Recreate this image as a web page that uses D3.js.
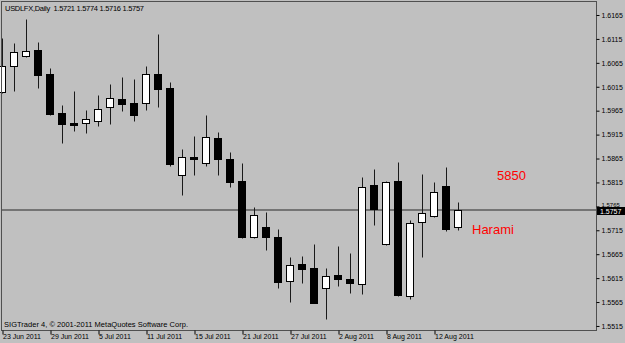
<!DOCTYPE html>
<html><head><meta charset="utf-8">
<script src="https://cdn.jsdelivr.net/npm/d3@7"></script>
<style>
html,body{margin:0;padding:0;background:#c0c0c0;}
svg{display:block;}
text{font-family:"Liberation Sans",Arial,sans-serif;}
</style></head>
<body>
<svg id="chart" width="625" height="343"></svg>
<script>
const dates = ["23 Jun","24 Jun","27 Jun","28 Jun","29 Jun","30 Jun","1 Jul","4 Jul","5 Jul","6 Jul","7 Jul","8 Jul","11 Jul","12 Jul","13 Jul","14 Jul","15 Jul","18 Jul","19 Jul","20 Jul","21 Jul","22 Jul","25 Jul","26 Jul","27 Jul","28 Jul","29 Jul","1 Aug","2 Aug","3 Aug","4 Aug","5 Aug","8 Aug","9 Aug","10 Aug","11 Aug","12 Aug","15 Aug","16 Aug"];
const openP  = [1.6005,1.6058,1.6079,1.6092,1.6041,1.5960,1.5939,1.5939,1.5944,1.5972,1.5990,1.5981,1.5981,1.6041,1.6012,1.5830,1.5868,1.5856,1.5907,1.5863,1.5817,1.5700,1.5721,1.5701,1.5609,1.5645,1.5637,1.5594,1.5622,1.5613,1.5603,1.5810,1.5686,1.5819,1.5578,1.5732,1.5745,1.5808,1.5721];
const highP  = [1.6116,1.6107,1.6157,1.6109,1.6055,1.5977,1.6006,1.5966,1.5998,1.6021,1.6035,1.6031,1.6058,1.6125,1.6025,1.5884,1.5912,1.5955,1.5920,1.5878,1.5855,1.5764,1.5754,1.5717,1.5660,1.5662,1.5687,1.5637,1.5682,1.5668,1.5827,1.5843,1.5818,1.5858,1.5737,1.5833,1.5816,1.5847,1.5774];
const lowP   = [1.6002,1.6006,1.6077,1.6013,1.5956,1.5897,1.5923,1.5918,1.5932,1.5937,1.5965,1.5944,1.5966,1.5972,1.5850,1.5789,1.5830,1.5850,1.5830,1.5806,1.5698,1.5698,1.5674,1.5594,1.5565,1.5604,1.5562,1.5530,1.5599,1.5583,1.5582,1.5725,1.5684,1.5578,1.5571,1.5660,1.5743,1.5714,1.5716];
const closeP = [1.6059,1.6088,1.6090,1.6040,1.5958,1.5937,1.5936,1.5948,1.5968,1.5991,1.5979,1.5956,1.6041,1.6011,1.5854,1.5868,1.5864,1.5909,1.5863,1.5816,1.5702,1.5747,1.5701,1.5607,1.5643,1.5634,1.5564,1.5620,1.5614,1.5604,1.5806,1.5760,1.5815,1.5580,1.5731,1.5751,1.5794,1.5718,1.5757];
const xTickDates  = ["23 Jun","29 Jun","5 Jul","11 Jul","15 Jul","21 Jul","27 Jul","2 Aug","8 Aug","12 Aug"];
const xTickLabels = ["23 Jun 2011","29 Jun 2011","5 Jul 2011","11 Jul 2011","15 Jul 2011","21 Jul 2011","27 Jul 2011","2 Aug 2011","8 Aug 2011","12 Aug 2011"];
const yTicks = [1.6165,1.6115,1.6065,1.6015,1.5965,1.5915,1.5865,1.5815,1.5765,1.5715,1.5665,1.5615,1.5565,1.5515];
const titleText = "USDLFX,Daily  1.5721 1.5774 1.5716 1.5757";
const copyrightText = "SIGTrader 4, © 2001-2011 MetaQuotes Software Corp.";
const lastPrice = 1.5757;
const notes = [{text:"5850"},{text:"Harami"}];

const svg = d3.select("#chart");
const L = 1, R = 596, T = 1, B = 330;
const x = d3.scalePoint().domain(dates).range([3, 459]);
const y = d3.scaleLinear().domain([1.550656, 1.619426]).range([B, T]);
const py = v => Math.round(y(v)) + 0.5;

svg.append("rect").attr("width",625).attr("height",343).attr("fill","#c0c0c0");

// bid line
svg.append("line").attr("x1",L).attr("x2",R).attr("y1",Math.round(y(lastPrice))).attr("y2",Math.round(y(lastPrice)))
  .attr("stroke","#747474").attr("stroke-width",2);

const data = dates.map((d,i)=>({d, o:openP[i], h:highP[i], l:lowP[i], c:closeP[i]}));
const g = svg.append("g");
g.selectAll("line.w").data(data).enter().append("line")
  .attr("x1",d=>x(d.d)-0.5).attr("x2",d=>x(d.d)-0.5)
  .attr("y1",d=>py(d.h)).attr("y2",d=>py(d.l))
  .attr("stroke","#1a1a1a").attr("stroke-width",1);
g.selectAll("rect.b").data(data).enter().append("rect")
  .attr("x",d=>x(d.d)-4.5).attr("width",7)
  .attr("y",d=>Math.min(py(d.o),py(d.c)))
  .attr("height",d=>Math.max(1,Math.abs(py(d.o)-py(d.c))))
  .attr("fill",d=>d.c>d.o?"#ffffff":"#000000")
  .attr("stroke","#000").attr("stroke-width",1);

// frame
svg.append("rect").attr("x",L+0.5).attr("y",T+0.5).attr("width",R-L).attr("height",B-T)
  .attr("fill","none").attr("stroke","#505050").attr("stroke-width",1);

// y axis
const by = Math.round(y(lastPrice));
const yAxis = d3.axisRight(y).tickValues(yTicks).tickSize(3).tickPadding(2).tickFormat(d3.format(".4f"));
const ya = svg.append("g").attr("transform",`translate(${R+0.5},0)`).call(yAxis);
ya.select(".domain").remove();
ya.selectAll(".tick line").attr("stroke","#000");
ya.selectAll(".tick text").attr("font-size","7px").attr("fill","#000").attr("font-family","Liberation Sans, Arial, sans-serif");
// the label hidden behind the price box: lift so it sits just above it
ya.selectAll(".tick").filter(d=>Math.abs(y(d)-by)<8).select("text").attr("dy","-0.05em").attr("font-size","6px");

// price box
svg.append("rect").attr("x",597).attr("y",by-3).attr("width",28).attr("height",8).attr("fill","#000");
svg.append("text").attr("x",600).attr("y",by+4).attr("font-size","7px").attr("fill","#fff").text(d3.format(".4f")(lastPrice));

// x axis
const xAxis = d3.axisBottom(x).tickValues(xTickDates).tickSize(4).tickPadding(1)
  .tickFormat((d)=>xTickLabels[xTickDates.indexOf(d)]);
const xa = svg.append("g").attr("transform",`translate(-0.5,${B+0.5})`).call(xAxis);
xa.select(".domain").remove();
xa.selectAll(".tick line").attr("stroke","#000");
xa.selectAll(".tick text").attr("font-size","7px").attr("fill","#000").attr("text-anchor","start")
  .attr("font-family","Liberation Sans, Arial, sans-serif").attr("dy","0.55em");

// title and copyright
svg.append("text").attr("x",5).attr("y",11).attr("font-size","7.5px").attr("fill","#000")
  .attr("textLength",139).attr("lengthAdjust","spacing").style("white-space","pre").text(titleText);
svg.append("text").attr("x",4).attr("y",327).attr("font-size","7.5px").attr("fill","#000")
  .attr("textLength",184).attr("lengthAdjust","spacing").text(copyrightText);

// annotations
svg.append("text").attr("x",497).attr("y",179.5).attr("font-size","13px").attr("fill","#ff0000").text(notes[0].text);
svg.append("text").attr("x",472).attr("y",233.5).attr("font-size","13px").attr("fill","#ff0000").text(notes[1].text);
</script>
</body></html>
